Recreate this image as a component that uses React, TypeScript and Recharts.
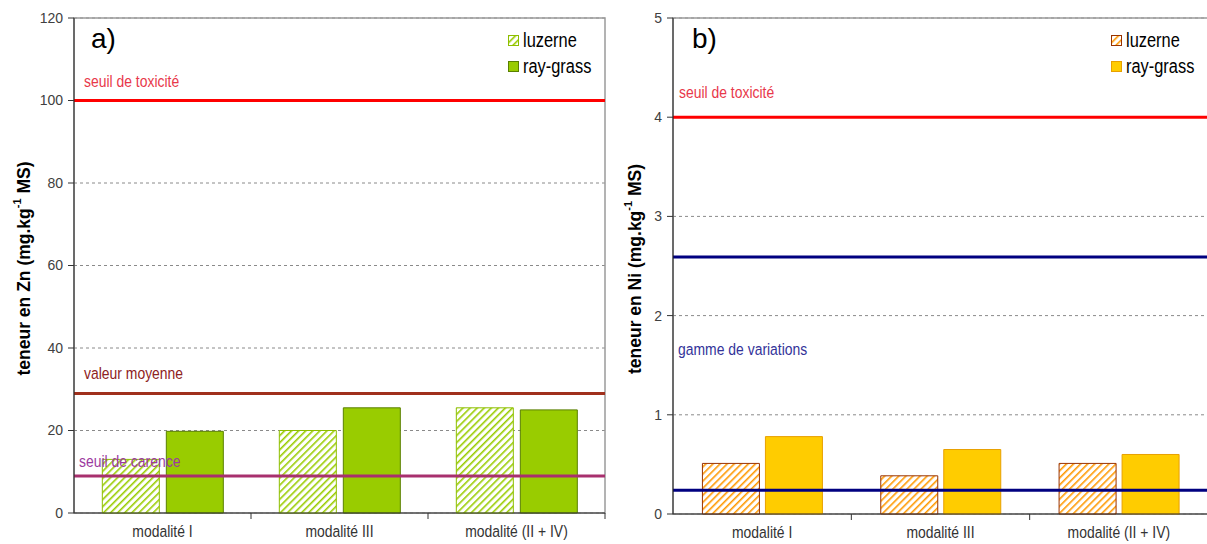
import React from 'react'
import {
  BarChart,
  Bar,
  XAxis,
  YAxis,
  CartesianGrid,
  ReferenceLine,
  ReferenceArea,
  Legend,
} from 'recharts'

const categories = ['modalité I', 'modalité III', 'modalité (II + IV)']
const seriesNames = ['luzerne', 'ray-grass']

// a) Zn
const znLuzerne = [13, 20, 25.5]
const znRayGrass = [19.8, 25.5, 25]
const znTicks = [0, 20, 40, 60, 80, 100, 120]
const znSeuilToxicite = 100
const znValeurMoyenne = 29
const znSeuilCarence = 9

// b) Ni
const niLuzerne = [0.51, 0.385, 0.51]
const niRayGrass = [0.78, 0.65, 0.6]
const niTicks = [0, 1, 2, 3, 4, 5]
const niSeuilToxicite = 4
const niGammeHaute = 2.59
const niGammeBasse = 0.24

const SANS = "'Liberation Sans', Arial, sans-serif"
// the source uses a condensed Arial; squeeze Liberation Sans horizontally
const SQUEEZE = 0.82

const znData = categories.map((name, i) => ({
  name,
  luzerne: znLuzerne[i],
  'ray-grass': znRayGrass[i],
}))
const niData = categories.map((name, i) => ({
  name,
  luzerne: niLuzerne[i],
  'ray-grass': niRayGrass[i],
}))

function NarrowText({ x, y, anchor = 'start', size = 17, fill, children }: any) {
  return (
    <text
      transform={`translate(${x},${y}) scale(${SQUEEZE},1)`}
      textAnchor={anchor}
      fontSize={size}
      fontFamily={SANS}
      fill={fill}
    >
      {children}
    </text>
  )
}

function lineLabel(text: string, color: string, dx: number, dy: number) {
  return ({ viewBox }: any) => (
    <NarrowText x={viewBox.x + dx} y={viewBox.y - dy} fill={color}>
      {text}
    </NarrowText>
  )
}

function yTitle(metal: string, dx: number) {
  return ({ viewBox }: any) => {
    const cx = viewBox.x + dx
    const cy = viewBox.y + viewBox.height / 2 + 3
    return (
      <text
        x={cx}
        y={cy}
        transform={`rotate(-90, ${cx}, ${cy})`}
        textAnchor="middle"
        dominantBaseline="central"
        fontFamily={SANS}
        fontWeight="bold"
        fontSize={17.5}
        fill="#000"
      >
        teneur en {metal} (mg.kg
        <tspan dy={-7} fontSize={11}>
          -1
        </tspan>
        <tspan dy={7}> MS)</tspan>
      </text>
    )
  }
}

function catTick(band: number) {
  return (props: any) => {
    const { x, y, payload } = props
    return (
      <g>
        <line x1={x + band / 2} x2={x + band / 2} y1={y - 10} y2={y - 4} stroke="#333" />
        <NarrowText x={x} y={y + 14} anchor="middle" fill="#333">
          {payload.value}
        </NarrowText>
      </g>
    )
  }
}

function legendContent(hatchId: string, fill: string, stroke: string, hatchStroke: string) {
  return () => (
    <div style={{ fontFamily: SANS, fontSize: 20, color: '#000' }}>
      {seriesNames.map((n, i) => (
        <div key={n} style={{ display: 'flex', alignItems: 'center', height: 26 }}>
          <svg width={11} height={11} style={{ marginRight: 4 }}>
            <rect
              x={0.5}
              y={0.5}
              width={10}
              height={10}
              fill={i === 0 ? `url(#${hatchId})` : fill}
              stroke={i === 0 ? hatchStroke : stroke}
            />
          </svg>
          <span
            style={{
              display: 'inline-block',
              transform: `scaleX(${SQUEEZE})`,
              transformOrigin: 'left center',
              whiteSpace: 'nowrap',
            }}
          >
            {n}
          </span>
        </div>
      ))}
    </div>
  )
}

function hatch(id: string, color: string) {
  return (
    <pattern id={id} width={5} height={5} patternUnits="userSpaceOnUse" patternTransform="rotate(45)">
      <rect width={5} height={5} fill="#fff" />
      <line x1={0} y1={0} x2={0} y2={5} stroke={color} strokeWidth={3.2} />
    </pattern>
  )
}

export default function App() {
  return (
    <div
      style={{
        position: 'absolute',
        left: 0,
        top: 0,
        width: 1207,
        height: 544,
        overflow: 'hidden',
        background: '#fff',
        fontFamily: SANS,
      }}
    >
      <div style={{ position: 'absolute', left: 0, top: 0 }}>
        <BarChart
          width={610}
          height={544}
          data={znData}
          margin={{ top: 18, right: 5, bottom: 1, left: 29 }}
          barCategoryGap="16%"
          barGap={7}
        >
          <defs>{hatch('hatchZn', '#99CC00')}</defs>
          <ReferenceArea y1={0} y2={120} fill="none" stroke="#9a9a9a" strokeWidth={1.5} />
          <CartesianGrid vertical={false} strokeDasharray="3 3" stroke="#8a8a8a" />
          <XAxis
            dataKey="name"
            height={30}
            interval={0}
            tickLine={false}
            tickSize={6}
            tickMargin={4}
            axisLine={{ stroke: '#333' }}
            tick={catTick(177)}
          />
          <YAxis
            width={45}
            domain={[0, 120]}
            ticks={znTicks}
            interval={0}
            tickSize={6}
            tickMargin={5}
            axisLine={{ stroke: '#222' }}
            tickLine={{ stroke: '#333' }}
            tick={{ fill: '#404040', fontSize: 14, fontFamily: SANS }}
            label={yTitle('Zn', -5.5)}
          />
          <Legend
            layout="horizontal"
            verticalAlign="middle"
            align="center"
            wrapperStyle={{ top: 27, left: 508, width: 'auto' }}
            content={legendContent('hatchZn', '#99CC00', '#5A8000', '#8DBE00')}
          />
          <Bar dataKey="luzerne" fill="url(#hatchZn)" stroke="#8DBE00" isAnimationActive={false} />
          <Bar dataKey="ray-grass" fill="#99CC00" stroke="#5A8000" isAnimationActive={false} />
          <ReferenceLine
            y={znSeuilToxicite}
            stroke="#FF0000"
            strokeWidth={3}
            label={lineLabel('seuil de toxicité', '#E8384A', 10, 14)}
          />
          <ReferenceLine
            y={znValeurMoyenne}
            stroke="#A0301C"
            strokeWidth={3}
            label={lineLabel('valeur moyenne', '#8E2222', 10, 14)}
          />
          <ReferenceLine
            y={znSeuilCarence}
            stroke="#A8306E"
            strokeWidth={3}
            label={lineLabel('seuil de carence', '#9C3AA0', 5, 9)}
          />
        </BarChart>
      </div>

      <div style={{ position: 'absolute', left: 610, top: 0 }}>
        <BarChart
          width={600}
          height={544}
          data={niData}
          margin={{ top: 18, right: 2, bottom: 1, left: 18 }}
          barCategoryGap="16.5%"
          barGap={6}
        >
          <defs>{hatch('hatchNi', '#FF9900')}</defs>
          <ReferenceArea y1={0} y2={5} fill="none" stroke="#9a9a9a" strokeWidth={1.5} />
          <CartesianGrid vertical={false} strokeDasharray="3 3" stroke="#8a8a8a" />
          <XAxis
            dataKey="name"
            height={29}
            interval={0}
            tickLine={false}
            tickSize={6}
            tickMargin={4}
            axisLine={{ stroke: '#333' }}
            tick={catTick(178.33)}
          />
          <YAxis
            width={45}
            domain={[0, 5]}
            ticks={niTicks}
            interval={0}
            tickSize={6}
            tickMargin={5}
            axisLine={{ stroke: '#222' }}
            tickLine={{ stroke: '#333' }}
            tick={{ fill: '#404040', fontSize: 14, fontFamily: SANS }}
            label={yTitle('Ni', 7)}
          />
          <Legend
            layout="horizontal"
            verticalAlign="middle"
            align="center"
            wrapperStyle={{ top: 27, left: 501, width: 'auto' }}
            content={legendContent('hatchNi', '#FFCC00', '#E8A000', '#993300')}
          />
          <Bar dataKey="luzerne" fill="url(#hatchNi)" stroke="#993300" isAnimationActive={false} />
          <Bar dataKey="ray-grass" fill="#FFCC00" stroke="#E8A000" isAnimationActive={false} />
          <ReferenceLine
            y={niSeuilToxicite}
            stroke="#FF0000"
            strokeWidth={3}
            label={lineLabel('seuil de toxicité', '#E8384A', 6, 19)}
          />
          <ReferenceLine
            y={niGammeHaute}
            stroke="#000080"
            strokeWidth={3}
            label={lineLabel('gamme de variations', '#333399', 5, -98)}
          />
          <ReferenceLine y={niGammeBasse} stroke="#000080" strokeWidth={3} />
        </BarChart>
      </div>

      <div style={{ position: 'absolute', left: 91, top: 25, fontSize: 28, lineHeight: 1, color: '#000' }}>a)</div>
      <div style={{ position: 'absolute', left: 692, top: 25, fontSize: 28, lineHeight: 1, color: '#000' }}>b)</div>
    </div>
  )
}
